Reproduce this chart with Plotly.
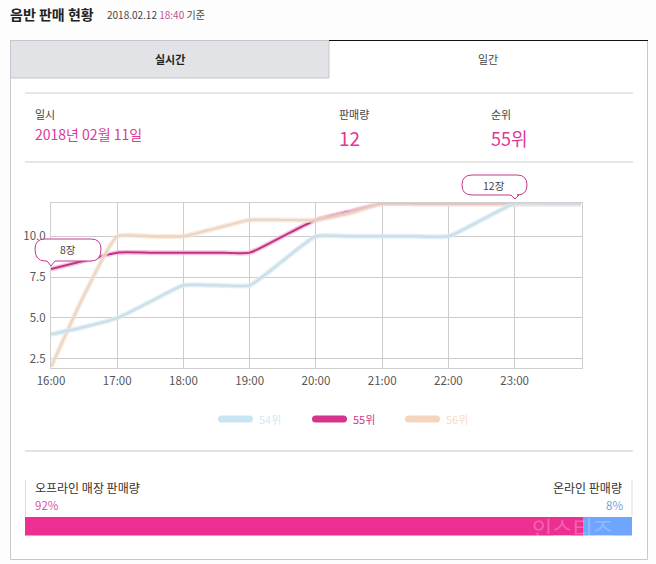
import plotly.graph_objects as go

W, H = 656, 564
FONT = "Noto Sans CJK KR"

# readings taken every half hour off the chart
hours = [16, 16.5, 17, 17.5, 18, 18.5, 19, 19.5, 20, 20.5, 21, 21.5, 22, 22.5, 23, 23.5, 24]
tick_hours = [16, 17, 18, 19, 20, 21, 22, 23]
tick_labels = ["16:00", "17:00", "18:00", "19:00", "20:00", "21:00", "22:00", "23:00"]
y_ticks = [2.5, 5.0, 7.5, 10.0]
y_labels = ["2.5", "5.0", "7.5", "10.0"]

rank54 = [4, 4.45, 5, 6, 7, 7, 7, 8.5, 10, 10, 10, 10, 10, 11, 12, 12, 12]
rank55 = [8, 8.5, 9, 9, 9, 9, 9, 10, 11, 11.5, 12, 12, 12, 12, 12, 12, 12]
rank56 = [2, 6.4, 10, 10, 10, 10.5, 11, 11, 11, 11.4, 12, 12, 12, 12, 12, 12, 12]

offline_share = [92]
online_share = [8]


def px(x):
    return x / W


def py(y):
    return 1 - y / H


def rect(x0, y0, x1, y1, fill=None, line=None, width=1, layer="below"):
    return dict(type="rect", xref="paper", yref="paper", layer=layer,
                x0=px(x0), x1=px(x1), y0=py(y0), y1=py(y1),
                fillcolor=fill or "rgba(0,0,0,0)",
                line=dict(color=line or "rgba(0,0,0,0)", width=width if line else 0))


def hline(x0, x1, y, color, width=1, y2=None):
    return dict(type="line", xref="paper", yref="paper", layer="below",
                x0=px(x0), x1=px(x1), y0=py(y), y1=py(y if y2 is None else y2),
                line=dict(color=color, width=width))


def pill(x0, x1, y, h, color):
    # legend swatch with round ends
    r = h / 2
    pts = [
        f"M{px(x0 + r)},{py(y - r)}", f"L{px(x1 - r)},{py(y - r)}",
        f"Q{px(x1)},{py(y - r)} {px(x1)},{py(y)}",
        f"Q{px(x1)},{py(y + r)} {px(x1 - r)},{py(y + r)}",
        f"L{px(x0 + r)},{py(y + r)}",
        f"Q{px(x0)},{py(y + r)} {px(x0)},{py(y)}",
        f"Q{px(x0)},{py(y - r)} {px(x0 + r)},{py(y - r)}", "Z",
    ]
    return dict(type="path", xref="paper", yref="paper", layer="below", path=" ".join(pts),
                fillcolor=color, line=dict(width=0))


def bubble(x0, y0, x1, y1, tip_x, tip_y, r=10):
    # rounded label box with a small tail under it
    pts = [
        f"M{px(x0 + r)},{py(y0)}", f"L{px(x1 - r)},{py(y0)}",
        f"Q{px(x1)},{py(y0)} {px(x1)},{py(y0 + r)}",
        f"Q{px(x1)},{py(y1)} {px(x1 - r)},{py(y1)}",
        f"L{px(tip_x + 4)},{py(y1)}", f"L{px(tip_x)},{py(tip_y)}", f"L{px(tip_x - 4)},{py(y1)}",
        f"L{px(x0 + r)},{py(y1)}",
        f"Q{px(x0)},{py(y1)} {px(x0)},{py(y0 + r)}",
        f"Q{px(x0)},{py(y0)} {px(x0 + r)},{py(y0)}", "Z",
    ]
    return dict(type="path", xref="paper", yref="paper", layer="above", path=" ".join(pts),
                fillcolor="white", line=dict(color="#c23a8c", width=1))


def label(x, y, text, size=11, color="#333", anchor="left", bold=False):
    # annotations carry about 2px of padding
    nudge = {"left": -2, "right": 2, "center": 0}[anchor]
    return dict(xref="paper", yref="paper", x=px(x + nudge), y=py(y), text=f"<b>{text}</b>" if bold else text,
                showarrow=False, xanchor=anchor, yanchor="middle", align=anchor,
                font=dict(family=FONT, size=size, color=color))


PINK = "#e0389a"

fig = go.Figure()

series = [
    (rank55, "rgba(248,185,222,0.85)", "#b8387f", "55위"),
    (rank56, "rgba(250,226,208,0.75)", "rgba(226,210,194,0.8)", "56위"),
    (rank54, "rgba(216,235,245,0.8)", "rgba(200,218,226,0.85)", "54위"),
]
for values, halo, core, name in series:
    fig.add_trace(go.Scatter(x=hours, y=values, mode="lines", name=name, showlegend=False,
                             line=dict(color=halo, width=5, shape="spline", smoothing=0.5)))
    fig.add_trace(go.Scatter(x=hours, y=values, mode="lines", name=name, showlegend=False,
                             line=dict(color=core, width=2, shape="spline", smoothing=0.5)))

fig.add_trace(go.Bar(x=offline_share, y=[0], orientation="h", xaxis="x2", yaxis="y2",
                     marker=dict(color="#ee2f92", line=dict(width=0)), width=1, showlegend=False))
fig.add_trace(go.Bar(x=online_share, y=[0], orientation="h", xaxis="x2", yaxis="y2",
                     marker=dict(color="#6ea6ff", line=dict(width=0)), width=1, showlegend=False))

shapes = [
    rect(10.5, 40.5, 647.5, 559.5, fill="white", line="#c8c8c8"),
    rect(10.5, 40.5, 329, 78, fill="#e1e3e6", line="#c4c6c9"),
    hline(329, 648, 40.5, "#111111", 1),
    hline(25, 633, 93, "#dedede", 1.5),
    hline(25, 633, 162, "#dedede", 1.5),
    hline(25, 633, 451, "#c9c9c9", 1),
    hline(25.5, 25.5, 480, "#dddddd", 1, y2=516),
    hline(632, 632, 480, "#dddddd", 1, y2=516),
    pill(218, 253, 419, 7, "#c9e4f2"),
    pill(312, 347, 419, 7, "#d6348c"),
    pill(405, 440, 419, 7, "#f5d5bd"),
    bubble(35, 239, 101, 261, 51, 266),
    bubble(462, 175, 527, 195, 515, 199),
]

annotations = [
    label(10, 14, "음반 판매 현황", 14, "#222", bold=True),
    label(107, 15, "2018.02.12 <span style='color:#c0558f'>18:40</span> 기준", 10, "#444"),
    label(170, 59, "실시간", 11, "#222", "center", bold=True),
    label(488, 59, "일간", 11, "#444", "center"),
    label(35, 114, "일시", 11, "#444"),
    label(339, 114, "판매량", 11, "#444"),
    label(491, 114, "순위", 11, "#444"),
    label(35, 134, "2018년 02월 11일", 14, PINK),
    label(339, 138, "12", 19, PINK),
    label(491, 138, "55위", 18, PINK),
    label(68, 250, "8장", 10.5, "#444", "center"),
    label(494, 185, "12장", 10.5, "#444", "center"),
    label(259, 419, "54위", 11, "#d5e8f2"),
    label(353, 419, "55위", 11, "#d6348c"),
    label(446, 419, "56위", 11, "#f7dcc8"),
    label(35, 487, "오프라인 매장 판매량", 12, "#333"),
    label(622, 487, "온라인 판매량", 12, "#333", "right"),
    label(35, 505, "92%", 11.5, "#d65aa8"),
    label(623, 505, "8%", 11.5, "#7d9fe0", "right"),
    label(572, 527, "인스티즈", 22, "rgba(255,255,255,0.25)", "center"),
]

fig.update_layout(
    width=W, height=H, margin=dict(l=0, r=0, t=0, b=0, autoexpand=False),
    paper_bgcolor="#fdfdfd", plot_bgcolor="rgba(0,0,0,0)",
    font=dict(family=FONT, size=11.5, color="#555"),
    barmode="stack", showlegend=False, hovermode=False,
    shapes=shapes, annotations=annotations,
    xaxis=dict(domain=[px(51), px(581.5)], range=[16, 24.01], tickvals=tick_hours, ticktext=tick_labels,
               showgrid=True, gridcolor="#cccccc", gridwidth=1, zeroline=False, showline=True, automargin=False,
               linecolor="#cfcfcf", mirror=True, ticks="", ticklabelstandoff=3,
               tickfont=dict(family=FONT, size=11.5, color="#555")),
    yaxis=dict(domain=[py(367.5), py(203.3)], range=[1.97, 12.02], tickvals=y_ticks, ticktext=y_labels,
               showgrid=True, gridcolor="#cccccc", gridwidth=1, zeroline=False, showline=True, automargin=False,
               linecolor="#cfcfcf", mirror=True, ticks="", ticklabelstandoff=2,
               tickfont=dict(family=FONT, size=11.5, color="#555")),
    xaxis2=dict(domain=[px(25), px(632)], range=[0, 100], visible=False, anchor="y2", automargin=False),
    yaxis2=dict(domain=[py(535.5), py(516.5)], range=[-0.5, 0.5], visible=False, anchor="x2", automargin=False),
)

fig.write_html("out.html", config={"displayModeBar": False},
               post_script="document.body.style.margin='0'")
